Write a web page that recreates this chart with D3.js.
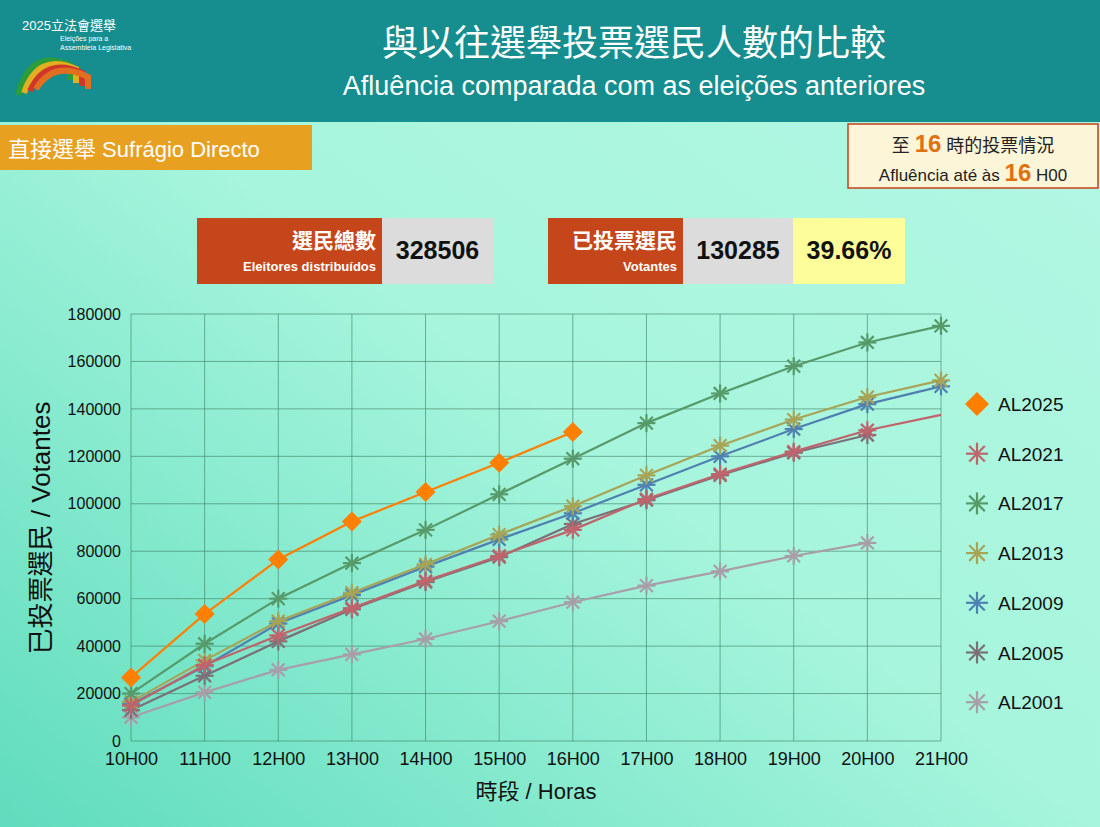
<!DOCTYPE html><html><head><meta charset="utf-8"><script src="https://cdn.jsdelivr.net/npm/d3@7"></script>
<style>body{margin:0;}svg{display:block;font-family:"Liberation Sans",Arial,"Noto Sans CJK TC",sans-serif;}</style></head><body><svg id="c" width="1100" height="827"></svg>
<script>
const hours=["10H00","11H00","12H00","13H00","14H00","15H00","16H00","17H00","18H00","19H00","20H00","21H00"];
const yTicks=[0,20000,40000,60000,80000,100000,120000,140000,160000,180000];
const AL2025=[26800,53500,76500,92500,105000,117300,130285];
const AL2021=[15000,32000,44500,56000,67500,78000,89000,102000,112500,122000,131000,137500];
const AL2017=[20000,41000,60000,75000,89000,104000,119000,134000,146500,158000,168000,175000];
const AL2013=[16500,34000,50500,62500,74500,87000,99000,112000,124500,135500,145000,152000];
const AL2009=[15500,31500,49500,61500,73500,85000,96000,108000,120000,131500,142000,149500];
const AL2005=[13000,27500,42000,55500,67000,77500,91500,101500,112000,121500,129000];
const AL2001=[10000,20500,30000,36500,43000,50500,58500,65500,71500,78000,83500];
const series=[
 {name:"AL2025",v:AL2025,c:"#ff7f00",d:true},
 {name:"AL2021",v:AL2021,c:"#c0646c",last:false},
 {name:"AL2017",v:AL2017,c:"#579a6a"},
 {name:"AL2013",v:AL2013,c:"#a8a456"},
 {name:"AL2009",v:AL2009,c:"#4f80b2"},
 {name:"AL2005",v:AL2005,c:"#7c7078"},
 {name:"AL2001",v:AL2001,c:"#a89ea8"}];
const svg=d3.select("#c");
const defs=svg.append("defs");
const g1=defs.append("linearGradient").attr("id","bg").attr("x1","0").attr("y1","1").attr("x2","1").attr("y2","0");
g1.append("stop").attr("offset","0").attr("stop-color","#5fdcbd");
g1.append("stop").attr("offset","0.5").attr("stop-color","#a6f5dc");
g1.append("stop").attr("offset","1").attr("stop-color","#b4f7e4");
svg.append("rect").attr("width",1100).attr("height",827).attr("fill","url(#bg)");
svg.append("rect").attr("width",1100).attr("height",122).attr("fill","#168d8e");
svg.append("text").attr("x",634).attr("y",56).attr("text-anchor","middle").attr("font-size",36).attr("fill","#fff").text("與以往選舉投票選民人數的比較");
svg.append("text").attr("x",634).attr("y",95).attr("text-anchor","middle").attr("font-size",27).attr("fill","#fff").text("Afluência comparada com as eleições anteriores");
// logo
svg.append("text").attr("x",22).attr("y",30).attr("font-size",13).attr("fill","#fff").text("2025立法會選舉");
svg.append("text").attr("x",60).attr("y",41).attr("font-size",7).attr("fill","#fff").text("Eleições para a");
svg.append("text").attr("x",60).attr("y",50).attr("font-size",7).attr("fill","#fff").text("Assembleia Legislativa");
["#2a9d3a","#e0b020","#d0362a","#e07020"].forEach((c,i)=>svg.append("path").attr("d",`M${18+i*6},${95-i*2} Q${30+i*8},${48+i*4} ${70+i*6},${65+i*4} L${70+i*6},${80+i*3}`).attr("fill","none").attr("stroke",c).attr("stroke-width",6));
// sub header
svg.append("rect").attr("x",0).attr("y",125).attr("width",312).attr("height",45).attr("fill","#e8a020");
svg.append("text").attr("x",8).attr("y",157).attr("font-size",22).attr("fill","#fff").text("直接選舉 Sufrágio Directo");
svg.append("rect").attr("x",848).attr("y",124).attr("width",250).attr("height",64).attr("fill","#fdf5d8").attr("stroke","#c4401a").attr("stroke-width",1.5);
const t1=svg.append("text").attr("x",973).attr("y",152).attr("text-anchor","middle").attr("font-size",18).attr("fill","#222");
t1.append("tspan").text("至 ");t1.append("tspan").attr("fill","#e07010").attr("font-size",24).attr("font-weight","bold").text("16");t1.append("tspan").text(" 時的投票情況");
const t2=svg.append("text").attr("x",973).attr("y",181).attr("text-anchor","middle").attr("font-size",17).attr("fill","#222");
t2.append("tspan").text("Afluência até às ");t2.append("tspan").attr("fill","#e07010").attr("font-size",24).attr("font-weight","bold").text("16");t2.append("tspan").text(" H00");
// boxes
function box(x,w,cn,pt,numx,numw,num){
 svg.append("rect").attr("x",x).attr("y",218).attr("width",w).attr("height",66).attr("fill","#c5461a");
 svg.append("text").attr("x",x+w-6).attr("y",248).attr("text-anchor","end").attr("font-size",21).attr("font-weight","bold").attr("fill","#fff").text(cn);
 svg.append("text").attr("x",x+w-6).attr("y",271).attr("text-anchor","end").attr("font-size",13).attr("font-weight","bold").attr("fill","#fff").text(pt);
 svg.append("rect").attr("x",numx).attr("y",218).attr("width",numw).attr("height",66).attr("fill","#dcdcdc");
 svg.append("text").attr("x",numx+numw/2).attr("y",259).attr("text-anchor","middle").attr("font-size",25).attr("font-weight","bold").attr("fill","#111").text(num);
}
box(197,185,"選民總數","Eleitores distribuídos",382,111,"328506");
box(548,135,"已投票選民","Votantes",683,110,"130285");
svg.append("rect").attr("x",793).attr("y",218).attr("width",112).attr("height",66).attr("fill","#fdfd9a");
svg.append("text").attr("x",849).attr("y",259).attr("text-anchor","middle").attr("font-size",25).attr("font-weight","bold").attr("fill","#111").text("39.66%");
// chart
const x=d3.scalePoint().domain(hours).range([131,941]);
const y=d3.scaleLinear().domain([0,180000]).range([741,314]);
const grid=svg.append("g").attr("stroke","#3d7f62").attr("stroke-opacity",0.6).attr("stroke-width",1);
yTicks.forEach(t=>grid.append("line").attr("x1",131).attr("x2",941).attr("y1",y(t)).attr("y2",y(t)));
hours.forEach(h=>grid.append("line").attr("x1",x(h)).attr("x2",x(h)).attr("y1",314).attr("y2",y(0)));
const ya=svg.append("g").attr("transform","translate(124,0)").call(d3.axisLeft(y).tickValues(yTicks).tickSize(0).tickFormat(d3.format("d")));
ya.select(".domain").remove();ya.selectAll("text").attr("font-size",16).attr("fill","#111").attr("font-family","Liberation Sans,Arial");
const xa=svg.append("g").attr("transform","translate(0,748)").call(d3.axisBottom(x).tickSize(0));
xa.select(".domain").remove();xa.selectAll("text").attr("font-size",18).attr("fill","#111").attr("dy","0.75em").attr("font-family","Liberation Sans,Arial");
svg.append("text").attr("x",536).attr("y",799).attr("text-anchor","middle").attr("font-size",22).attr("fill","#111").text("時段 / Horas");
svg.append("text").attr("transform","translate(50,528) rotate(-90)").attr("text-anchor","middle").attr("font-size",26).attr("fill","#111").text("已投票選民 / Votantes");
const line=d3.line().x((d,i)=>x(hours[i])).y(d=>y(d));
function star(s,cx,cy,c,r){const g=s.append("g").attr("stroke",c).attr("stroke-width",2.2);for(let k=0;k<4;k++){const a=k*Math.PI/4;g.append("line").attr("x1",cx-r*Math.cos(a)).attr("y1",cy-r*Math.sin(a)).attr("x2",cx+r*Math.cos(a)).attr("y2",cy+r*Math.sin(a));}}
function diamond(s,cx,cy,c,r){s.append("path").attr("d",`M${cx},${cy-r}L${cx+r},${cy}L${cx},${cy+r}L${cx-r},${cy}Z`).attr("fill",c);}
[...series].reverse().forEach(s=>{
 svg.append("path").attr("d",line(s.v)).attr("fill","none").attr("stroke",s.c).attr("stroke-width",2.2);
 s.v.forEach((v,i)=>{if(s.last===false&&i===s.v.length-1)return; if(s.d)diamond(svg,x(hours[i]),y(v),s.c,10);else star(svg,x(hours[i]),y(v),s.c,9);});
});
series.forEach((s,i)=>{const cy=404+i*49.7;
 if(s.d)diamond(svg,977,cy,s.c,12);else star(svg,977,cy,s.c,11);
 svg.append("text").attr("x",998).attr("y",cy+7).attr("font-size",19).attr("fill","#111").text(s.name);});
</script></body></html>
